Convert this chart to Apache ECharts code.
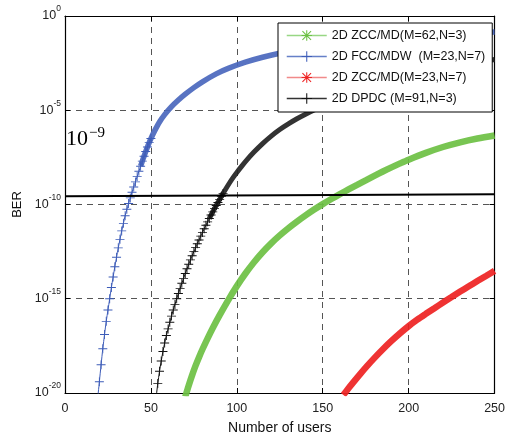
<!DOCTYPE html>
<html>
<head>
<meta charset="utf-8">
<script src="https://cdn.jsdelivr.net/npm/echarts@6/dist/echarts.min.js"></script>
<style>
    html, body { margin: 0; padding: 0; background: #fff; }
    #chart { width: 508px; height: 441px; }
</style>
</head>
<body>
<div id="chart"></div>
<script>
// 数据：横轴为用户数，纵轴为 BER 的指数 (log10)
var xTicks = [0, 50, 100, 150, 200, 250];
var yTickExps = [-20, -15, -10, -5, 0];

var seriesNames = ['2D ZCC/MD(M=62,N=3)', '2D FCC/MDW  (M=23,N=7)', '2D ZCC/MD(M=23,N=7)', '2D DPDC (M=91,N=3)'];

var greenUsers = [70, 72, 74, 76, 78, 80, 83, 86, 90, 95, 100, 105, 110, 115, 120, 125, 130, 135, 140, 145, 150,
    155, 160, 165, 170, 175, 180, 185, 190, 195, 200, 210, 220, 230, 240, 250];
var greenExp = [-20.2, -19.6, -19.05, -18.55, -18.1, -17.68, -17.1, -16.55, -15.87, -15.07, -14.33, -13.66, -13.06,
    -12.53, -12.06, -11.64, -11.26, -10.91, -10.58, -10.27, -9.98, -9.71, -9.45, -9.2, -8.96, -8.72, -8.48, -8.25,
    -8.03, -7.82, -7.62, -7.26, -6.95, -6.7, -6.5, -6.34];

var blueUsers = [19, 20, 21, 22, 23, 24, 25, 26, 27, 28, 29, 30, 31, 32, 33, 34, 35, 36, 37, 38, 39, 40, 41, 42,
    43, 44, 45, 46, 47, 48, 49, 50, 52, 55, 58, 62, 66, 70, 75, 80, 88, 95, 105, 115, 125, 140, 160, 180, 200, 225, 250];
var blueExp = [-20.3, -19.4, -18.5, -17.65, -16.9, -16.2, -15.6, -15.0, -14.4, -13.85, -13.3, -12.8, -12.3, -11.85,
    -11.4, -11.0, -10.6, -10.25, -9.95, -9.65, -9.35, -9.07, -8.8, -8.52, -8.24, -7.97, -7.7, -7.44, -7.19, -6.95,
    -6.72, -6.5, -6.12, -5.62, -5.23, -4.81, -4.46, -4.15, -3.8, -3.49, -3.07, -2.78, -2.45, -2.19, -1.98, -1.75,
    -1.5, -1.3, -1.13, -0.97, -0.85];

var redUsers = [162, 165, 168, 172, 176, 180, 185, 190, 195, 200, 205, 210, 215, 220, 225, 230, 235, 240, 245, 250];
var redExp = [-20.1, -19.75, -19.41, -18.97, -18.55, -18.15, -17.68, -17.24, -16.83, -16.45, -16.11, -15.8, -15.5,
    -15.2, -14.91, -14.62, -14.34, -14.06, -13.79, -13.52];

var blackUsers = [53, 54, 55, 56, 57, 58, 59, 60, 61, 62, 63, 64, 65, 66, 67, 68, 69, 70, 71, 72, 73, 74, 75, 76,
    77, 78, 79, 80, 81, 82, 83, 84, 85, 86, 87, 88, 89, 90, 91, 92, 94, 96, 98, 100, 103, 106, 110, 115, 120, 125,
    130, 135, 140, 145, 150, 160, 170, 180, 190, 200, 215, 230, 250];
var blackExp = [-20.25, -19.5, -18.85, -18.3, -17.8, -17.35, -16.95, -16.6, -16.25, -15.92, -15.6, -15.3, -15.0,
    -14.72, -14.45, -14.18, -13.92, -13.66, -13.41, -13.17, -12.94, -12.72, -12.5, -12.29, -12.08, -11.88, -11.68,
    -11.48, -11.29, -11.1, -10.92, -10.74, -10.56, -10.39, -10.22, -10.05, -9.89, -9.73, -9.57, -9.41, -9.11, -8.82,
    -8.55, -8.3, -7.95, -7.62, -7.22, -6.77, -6.37, -6.02, -5.72, -5.45, -5.21, -4.99, -4.79, -4.42, -4.08, -3.77,
    -3.49, -3.24, -2.91, -2.63, -2.31];

// 10^-9 附近的实线
var thresholdUsers = [0, 250];
var thresholdExp = [-9.56, -9.46];

// 标记符号
var plusPath = 'path://M4.5,0H5.5V4.5H10V5.5H5.5V10H4.5V5.5H0V4.5H4.5Z';
var starPath = 'path://M4.5,0H5.5V10H4.5Z M0,4.5H10V5.5H0Z M1.2,0.5L9.5,8.8L8.8,9.5L0.5,1.2Z M8.8,0.5L9.5,1.2L1.2,9.5L0.5,8.8Z';

var green = '#6cc043', blue = '#3d5cb8', red = '#ee2222', black = '#111111';

function toPoints(xs, exps, from, to) {
    var arr = [];
    for (var i = 0; i < xs.length; i++) {
        if (xs[i] >= from && xs[i] <= to) {
            arr.push([xs[i], Math.pow(10, exps[i])]);
        }
    }
    return arr;
}

// 稀疏标记段（细线 + 符号）
function markerSeries(name, color, xs, exps, to) {
    return {
        name: name,
        type: 'line',
        color: color,
        data: toPoints(xs, exps, -Infinity, to),
        smooth: 0.3,
        symbol: plusPath,
        symbolSize: 9,
        showAllSymbol: true,
        itemStyle: { borderWidth: 0 },
        lineStyle: { width: 1, color: color },
        z: 3
    };
}

// 密集标记段（粗带）
function bandSeries(name, color, xs, exps, from, width, symbol) {
    return {
        name: name,
        type: 'line',
        color: color,
        data: toPoints(xs, exps, from, Infinity),
        smooth: 0.3,
        symbol: symbol,
        showSymbol: false,
        itemStyle: { borderWidth: 0 },
        lineStyle: { width: width, color: color, opacity: 0.92 },
        z: 2
    };
}

function expLabel(value) {
    var e = Math.round(Math.log10(value));
    return '{b|10}{s|' + e + '}';
}

var labelRich = {
    b: { fontSize: 12.5, fontFamily: 'Liberation Sans', color: '#222' },
    s: { fontSize: 8.5, fontFamily: 'Liberation Sans', color: '#222', padding: [0, 0, 14, 0] }
};

var chart = echarts.init(document.getElementById('chart'));

var option = {
    animation: false,
    backgroundColor: '#fff',
    grid: { left: 65, right: 12, top: 16, bottom: 48 },
    legend: {
        orient: 'vertical',
        left: 278,
        top: 23,
        padding: [6, 7, 7, 8],
        itemWidth: 40,
        itemHeight: 13,
        itemGap: 8,
        backgroundColor: '#fff',
        borderColor: '#000',
        borderWidth: 1,
        borderRadius: 0,
        textStyle: { fontSize: 12.5, fontFamily: 'Liberation Sans', color: '#111' },
        lineStyle: { width: 1.5 },
        data: [
            { name: seriesNames[0], lineStyle: { color: '#8fd47a' } },
            { name: seriesNames[1], lineStyle: { color: '#6680c8' } },
            { name: seriesNames[2], lineStyle: { color: '#f08080' } },
            { name: seriesNames[3], lineStyle: { color: '#333333' } }
        ]
    },
    xAxis: [{
        type: 'value',
        min: xTicks[0],
        max: xTicks[xTicks.length - 1],
        interval: xTicks[1] - xTicks[0],
        name: 'Number of users',
        nameLocation: 'middle',
        nameGap: 28,
        nameTextStyle: { fontSize: 14, fontFamily: 'Liberation Sans', color: '#111' },
        axisLine: { show: true, onZero: false, lineStyle: { color: '#000', width: 1.2 } },
        axisTick: { show: true, inside: true, length: 5, lineStyle: { color: '#000' } },
        axisLabel: { fontSize: 12.5, fontFamily: 'Liberation Sans', color: '#222', margin: 9 },
        splitLine: {
            show: true, showMinLine: false, showMaxLine: false,
            lineStyle: { type: [6, 5], color: '#555', width: 1 }
        }
    }, {
        type: 'value',
        position: 'top',
        min: xTicks[0],
        max: xTicks[xTicks.length - 1],
        interval: xTicks[1] - xTicks[0],
        axisLine: { show: true, onZero: false, lineStyle: { color: '#000', width: 1.2 } },
        axisTick: { show: true, inside: true, length: 5, lineStyle: { color: '#000' } },
        axisLabel: { show: false },
        splitLine: { show: false }
    }],
    yAxis: [{
        type: 'log',
        logBase: 10,
        min: Math.pow(10, yTickExps[0]),
        max: Math.pow(10, yTickExps[yTickExps.length - 1]),
        interval: yTickExps[1] - yTickExps[0],
        name: 'BER',
        nameLocation: 'middle',
        nameGap: 37,
        nameTextStyle: { fontSize: 13, fontFamily: 'Liberation Sans', color: '#111' },
        axisLine: { show: true, onZero: false, lineStyle: { color: '#000', width: 1.2 } },
        axisTick: { show: true, inside: true, length: 5, lineStyle: { color: '#000' } },
        minorTick: { show: false },
        axisLabel: { formatter: expLabel, rich: labelRich, margin: 4 },
        splitLine: {
            show: true, showMinLine: false, showMaxLine: false,
            lineStyle: { type: [6, 5], color: '#555', width: 1 }
        }
    }, {
        type: 'log',
        logBase: 10,
        position: 'right',
        min: Math.pow(10, yTickExps[0]),
        max: Math.pow(10, yTickExps[yTickExps.length - 1]),
        interval: yTickExps[1] - yTickExps[0],
        axisLine: { show: true, onZero: false, lineStyle: { color: '#000', width: 1.2 } },
        axisTick: { show: true, inside: true, length: 5, lineStyle: { color: '#000' } },
        axisLabel: { show: false },
        splitLine: { show: false }
    }],
    graphic: [{
        type: 'text',
        left: 66,
        top: 126,
        z: 10,
        style: {
            text: '{a|10}{b|\u22129}',
            rich: {
                a: { fontSize: 22, fontFamily: 'Liberation Serif', fill: '#000' },
                b: { fontSize: 15, fontFamily: 'Liberation Serif', fill: '#000', padding: [0, 0, 12, 1] }
            }
        }
    }],
    series: [
        bandSeries(seriesNames[0], green, greenUsers, greenExp, -Infinity, 6.5, starPath),
        markerSeries(seriesNames[1], blue, blueUsers, blueExp, 50),
        bandSeries(seriesNames[1], '#4a67bd', blueUsers, blueExp, 44, 5.5, plusPath),
        bandSeries(seriesNames[2], red, redUsers, redExp, -Infinity, 6.5, starPath),
        markerSeries(seriesNames[3], black, blackUsers, blackExp, 92),
        bandSeries(seriesNames[3], '#222222', blackUsers, blackExp, 84, 5, plusPath),
        {
            name: 'threshold',
            type: 'line',
            data: toPoints(thresholdUsers, thresholdExp, -Infinity, Infinity),
            symbol: 'none',
            lineStyle: { color: '#000', width: 2 },
            z: 4
        }
    ]
};

chart.setOption(option);
</script>
</body>
</html>
